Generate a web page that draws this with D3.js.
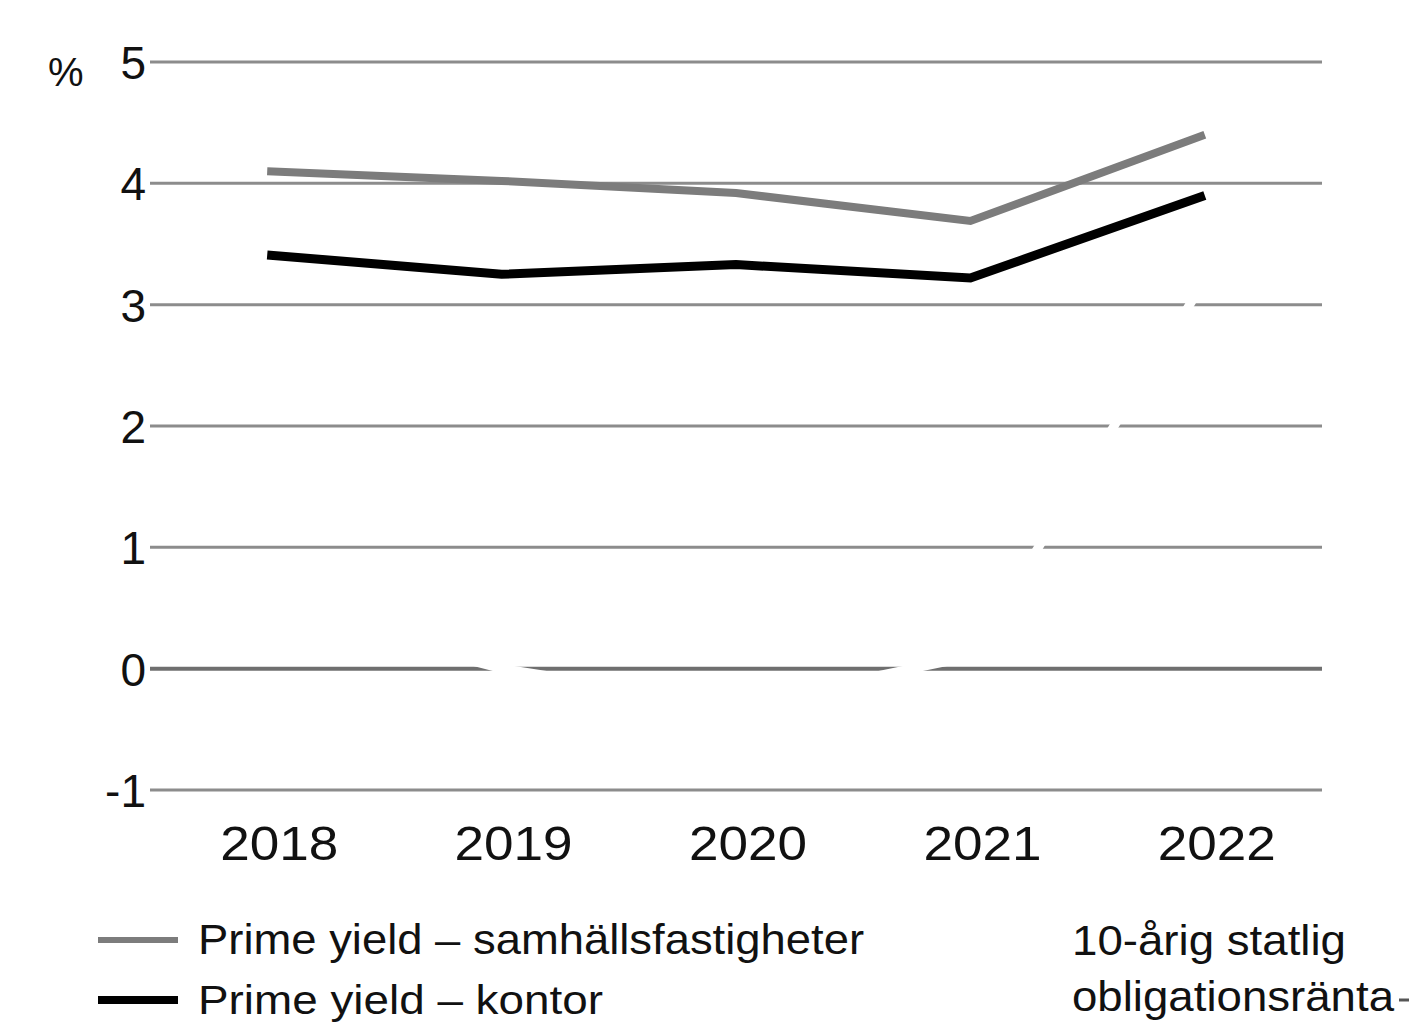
<!DOCTYPE html>
<html>
<head>
<meta charset="utf-8">
<script src="https://cdn.jsdelivr.net/npm/d3@7"></script>
<style>
  html, body { margin: 0; padding: 0; background: #fff; }
  svg { display: block; }
  text { font-family: "Liberation Sans", Arial, sans-serif; fill: #111; }
</style>
</head>
<body>
<svg id="chart" width="1409" height="1022"></svg>
<script>
const years = ["2018", "2019", "2020", "2021", "2022"];
const samhallsfastigheter = [4.10, 4.02, 3.92, 3.69, 4.40];
const kontor = [3.41, 3.25, 3.33, 3.22, 3.90];
const obligationsranta = [0.5, 0.0, -0.3, 0.1, 3.2];
const yTicks = [-1, 0, 1, 2, 3, 4, 5];
const legendLabels = ["Prime yield – samhällsfastigheter", "Prime yield – kontor"];
const bondLabel = ["10-årig statlig", "obligationsränta"];

const svg = d3.select("#chart");

const x = d3.scaleBand().domain(years).range([150, 1322]).paddingInner(0).paddingOuter(0);
const y = d3.scaleLinear().domain([-1, 5]).range([790, 62]);
const xc = d => x(d) + x.bandwidth() / 2;

// gridlines
const grid = svg.append("g");
grid.selectAll("line").data(yTicks).join("line")
  .attr("x1", 150).attr("x2", 1322)
  .attr("y1", d => y(d)).attr("y2", d => y(d))
  .attr("stroke", d => d === 0 ? "#6f6f6f" : "#8c8c8c")
  .attr("stroke-width", d => d === 0 ? 4 : 3);

// y axis labels
const yAxis = d3.axisLeft(y).tickValues(yTicks).tickSize(0).tickPadding(0).tickFormat(d => String(d));
const yg = svg.append("g").attr("transform", "translate(146,0)").call(yAxis);
yg.select(".domain").remove();
yg.selectAll("text")
  .attr("font-size", 46).attr("font-family", "Liberation Sans, Arial, sans-serif")
  .attr("fill", "#111").attr("dy", "0.36em");

svg.append("text").attr("x", 48).attr("y", 86).attr("font-size", 40).text("%");

// x axis labels
const xAxis = d3.axisBottom(x).tickSize(0).tickPadding(0);
const xg = svg.append("g").attr("transform", "translate(12,826)").call(xAxis);
xg.select(".domain").remove();
xg.selectAll("text")
  .attr("font-size", 48).attr("font-family", "Liberation Sans, Arial, sans-serif")
  .attr("fill", "#111").attr("dy", "0.71em")
  .attr("textLength", 118).attr("lengthAdjust", "spacingAndGlyphs");

const line = d3.line().x((d, i) => xc(years[i])).y(d => y(d));

// bond rate series (drawn white, visible only where it crosses gridlines)
svg.append("path").datum(obligationsranta)
  .attr("d", line).attr("fill", "none")
  .attr("stroke", "#ffffff").attr("stroke-width", 9).attr("stroke-linejoin", "round");

svg.append("path").datum(samhallsfastigheter)
  .attr("d", line).attr("fill", "none")
  .attr("stroke", "#7c7c7c").attr("stroke-width", 8).attr("stroke-linejoin", "miter");

svg.append("path").datum(kontor)
  .attr("d", line).attr("fill", "none")
  .attr("stroke", "#000").attr("stroke-width", 9).attr("stroke-linejoin", "miter");

// legend
const lg = svg.append("g");
const swatchColors = ["#7c7c7c", "#000"];
const swatchWidths = [6, 8];
const rowY = [940, 1000];
legendLabels.forEach((lab, i) => {
  const yy = rowY[i];
  lg.append("line").attr("x1", 98).attr("x2", 178).attr("y1", yy).attr("y2", yy)
    .attr("stroke", swatchColors[i]).attr("stroke-width", swatchWidths[i]);
  lg.append("text").attr("x", 198).attr("y", yy + 14).attr("font-size", i === 0 ? 42 : 40)
    .attr("textLength", i === 0 ? 666 : 405).attr("lengthAdjust", "spacingAndGlyphs")
    .text(lab);
});
bondLabel.forEach((lab, i) => {
  lg.append("text").attr("x", 1072).attr("y", 955 + i * 56).attr("font-size", 42)
    .attr("textLength", i === 0 ? 274 : 322).attr("lengthAdjust", "spacingAndGlyphs")
    .text(lab);
});
lg.append("line").attr("x1", 1399).attr("x2", 1409).attr("y1", 1000).attr("y2", 1000)
  .attr("stroke", "#555").attr("stroke-width", 3);
</script>
</body>
</html>
